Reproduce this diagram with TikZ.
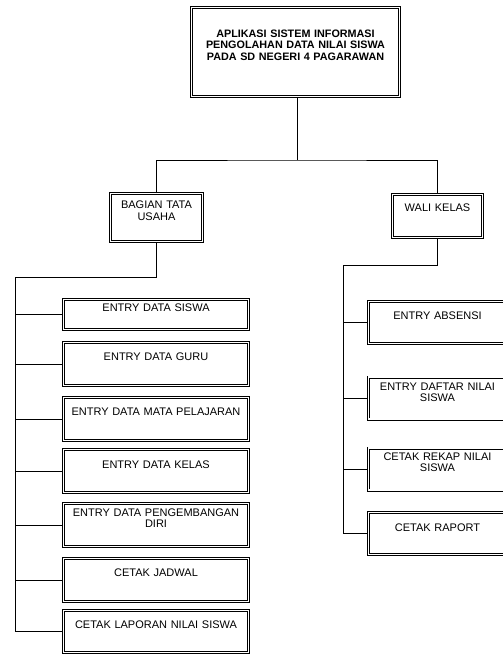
\documentclass[tikz,border=0pt]{standalone}
\usepackage{fontspec}
\setmainfont{Liberation Sans}
\tikzset{
	kotak/.style={draw, double, double distance=1.6pt, line width=0.7pt, inner sep=0pt, align=center, text height=8pt, text depth=14pt, font=\fontsize{11}{11.5}\selectfont},
	garis/.style={line width=0.6pt}
}

\begin{document}
\begin{tikzpicture}[x=1pt,y=-1pt]
	\useasboundingbox (0,0) rectangle (503,656);
	\clip (0,0) rectangle (503,656);
	
	\node[kotak, minimum width=208pt, minimum height=89pt, text width=204pt, text height=7.7pt, text depth=37.4pt, font=\fontsize{10.8}{11.7}\selectfont\bfseries] at (295.5,52) (app) {APLIKASI SISTEM INFORMASI\\PENGOLAHAN DATA NILAI SISWA\\PADA SD NEGERI 4 PAGARAWAN};
	
	\node[kotak, minimum width=92pt, minimum height=48pt, text width=88pt, text depth=25.5pt] at (156.5,217.4) (tu) {BAGIAN TATA\\USAHA};
	\node[kotak, minimum width=90pt, minimum height=43pt, text width=86pt, text depth=16pt] at (437.5,215.9) (wali) {WALI KELAS};
	
	% bagian tata usaha
	\foreach \i/\y/\h/\d/\teks in {1/314.5/30/14/{ENTRY DATA SISWA}, 2/363.9/43/14/{ENTRY DATA GURU}, 3/418.9/43/14/{ENTRY DATA MATA PELAJARAN}, 4/471/43/14/{ENTRY DATA KELAS}, 5/524.9/43/25.5/{ENTRY DATA PENGEMBANGAN\\DIRI}, 6/579.9/43/14/{CETAK JADWAL}, 7/631.5/42/14/{CETAK LAPORAN NILAI SISWA}}
		\node[kotak, minimum width=185pt, text width=181pt, minimum height=\h pt, text depth=\d pt] at (156,\y) (t\i) {\teks};
	
	% wali kelas
	\foreach \i/\y/\d/\teks in {1/322.5/14/{ENTRY ABSENSI}, 2/398/24/{ENTRY DAFTAR NILAI\\SISWA}, 3/469/25.5/{CETAK REKAP NILAI\\SISWA}, 4/533.5/12/{CETAK RAPORT}}
		\node[kotak, minimum width=138pt, text width=134pt, minimum height=42pt, text depth=\d pt] at (437.5,\y) (w\i) {\teks};
	
	\coordinate (cabang) at (297,160);
	\coordinate (kiri) at (15.5,277.7);
	\coordinate (kanan) at (343.3,265);
	
	\draw[garis] (app.south -| cabang) -- (cabang);
	\draw[garis] (tu.north) |- (cabang) -| (wali.north);
	
	\draw[garis] (tu.south) |- (kiri) -- (kiri |- t7.west);
	\foreach \i in {1,...,7}
		\draw[garis] (kiri |- t\i.west) -- (t\i.west);
	
	\draw[garis] (wali.south) |- (kanan) -- (kanan |- w4.west);
	\foreach \i in {1,...,4}
		\draw[garis] (kanan |- w\i.west) -- (w\i.west);
\end{tikzpicture}
\end{document}
